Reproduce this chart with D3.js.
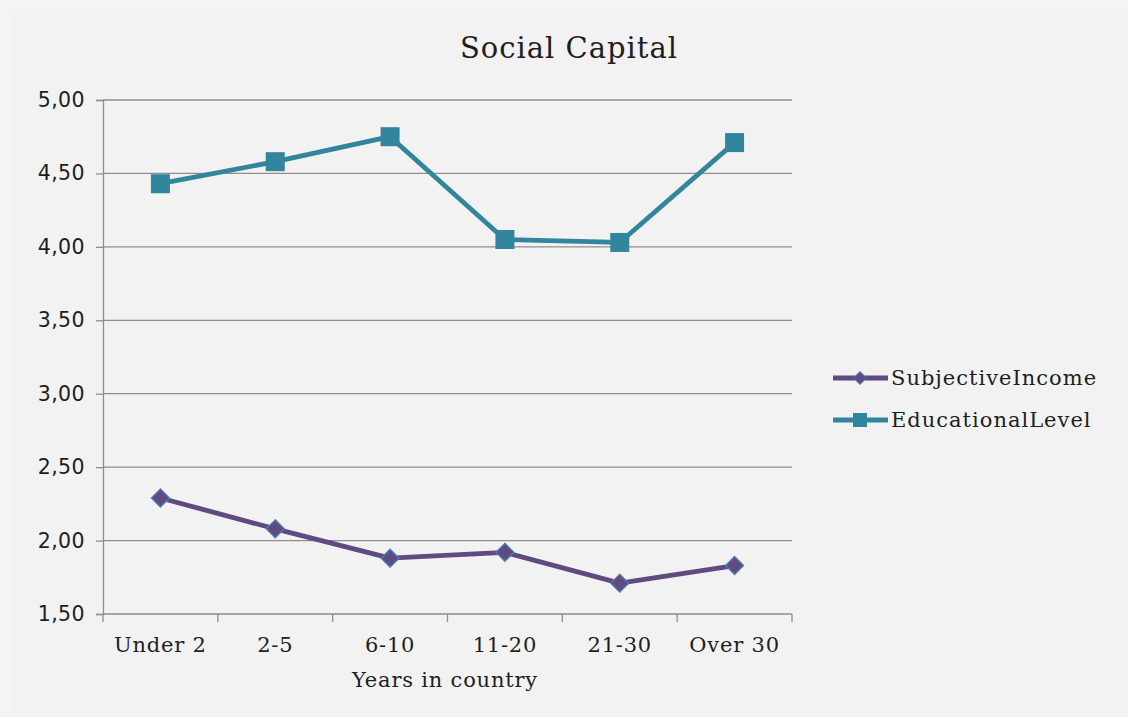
<!DOCTYPE html>
<html>
<head>
<meta charset="utf-8">
<script src="https://cdn.jsdelivr.net/npm/d3@7"></script>
<style>
  html, body { margin: 0; padding: 0; background: #f3f4f6; }
  svg { display: block; }
</style>
</head>
<body>
<svg id="chart" width="1128" height="717"></svg>
<script>
// Years-in-country groups and the two series
const categories = ["Under 2", "2-5", "6-10", "11-20", "21-30", "Over 30"];
const subjectiveIncome = [2.29, 2.08, 1.88, 1.92, 1.71, 1.83];
const educationalLevel = [4.43, 4.58, 4.75, 4.05, 4.03, 4.71];
const yTicks = [1.5, 2.0, 2.5, 3.0, 3.5, 4.0, 4.5, 5.0];

const series = [
  { name: "SubjectiveIncome", values: subjectiveIncome, color: "#5f4b80", marker: "diamond" },
  { name: "EducationalLevel", values: educationalLevel, color: "#31859c", marker: "square" }
];

const svg = d3.select("#chart");
const W = 1128, H = 717;
const margin = { left: 103, right: 336, top: 100, bottom: 103 };

// Chart panel
svg.append("rect").attr("x", 12).attr("y", 9).attr("width", 1110).attr("height", 704)
  .attr("fill", "#f2f2f2");

const x = d3.scaleBand().domain(categories).range([margin.left, W - margin.right]);
const y = d3.scaleLinear().domain([1.5, 5.0]).range([H - margin.bottom, margin.top]);

const serif = "'DejaVu Serif', 'Liberation Serif', serif";
const sans = "'DejaVu Sans', Verdana, sans-serif";
const gridColor = "#8e8e8e";
const textColor = "#1e1e1e";

// Equal-sided diamond (a square turned 45 degrees)
const diamondPath = r => `M0,${-r}L${r},0L0,${r}L${-r},0Z`;
const squarePath = h => `M${-h},${-h}H${h}V${h}H${-h}Z`;

// Horizontal gridlines
svg.append("g").selectAll("line").data(yTicks.slice(1)).join("line")
  .attr("x1", margin.left).attr("x2", W - margin.right)
  .attr("y1", d => y(d)).attr("y2", d => y(d))
  .attr("stroke", gridColor).attr("stroke-width", 1.3);

// Y axis
const fmt = d => d3.format(".2f")(d).replace(".", ",");
const yAxis = svg.append("g").attr("transform", `translate(${margin.left},0)`)
  .call(d3.axisLeft(y).tickValues(yTicks).tickFormat(fmt).tickSize(7).tickPadding(11));
yAxis.select(".domain").attr("stroke", gridColor).attr("stroke-width", 1.3);
yAxis.selectAll(".tick line").attr("stroke", gridColor).attr("stroke-width", 1.3);
yAxis.selectAll(".tick text").attr("font-family", sans).attr("font-size", 20.5)
  .attr("letter-spacing", 0.4).attr("fill", textColor);

// X axis with tick marks at category boundaries
const xAxisG = svg.append("g").attr("transform", `translate(0,${y(1.5)})`);
xAxisG.append("line").attr("x1", margin.left).attr("x2", W - margin.right)
  .attr("y1", 0).attr("y2", 0).attr("stroke", gridColor).attr("stroke-width", 1.3);
const bounds = categories.map(c => x(c)).concat([x(categories[categories.length - 1]) + x.bandwidth()]);
xAxisG.selectAll("line.tk").data(bounds).join("line").attr("class", "tk")
  .attr("x1", d => d).attr("x2", d => d).attr("y1", 0).attr("y2", 8)
  .attr("stroke", gridColor).attr("stroke-width", 1.3);
xAxisG.selectAll("text").data(categories).join("text")
  .attr("x", d => x(d) + x.bandwidth() / 2).attr("y", 38)
  .attr("text-anchor", "middle").attr("font-family", serif).attr("font-size", 21)
  .attr("letter-spacing", 0.8).attr("fill", textColor).text(d => d);

// Axis title and chart title
svg.append("text").attr("x", 445).attr("y", 687).attr("text-anchor", "middle")
  .attr("font-family", serif).attr("font-size", 21).attr("letter-spacing", 0.8)
  .attr("fill", textColor).text("Years in country");
svg.append("text").attr("x", 569).attr("y", 58).attr("text-anchor", "middle")
  .attr("font-family", serif).attr("font-size", 29).attr("letter-spacing", 1)
  .attr("fill", textColor).text("Social Capital");

// Lines and markers
const line = d3.line().x((d, i) => x(categories[i]) + x.bandwidth() / 2).y(d => y(d));

series.forEach(s => {
  svg.append("path").datum(s.values).attr("d", line).attr("fill", "none")
    .attr("stroke", s.color).attr("stroke-width", 4.8).attr("stroke-linejoin", "round");
  svg.append("g").selectAll("path").data(s.values).join("path")
    .attr("transform", (d, i) => `translate(${x(categories[i]) + x.bandwidth() / 2},${y(d)})`)
    .attr("d", s.marker === "diamond" ? diamondPath(9) : squarePath(9.5))
    .attr("fill", s.color)
    .attr("stroke", s.marker === "diamond" ? "#4a7ebb" : "none")
    .attr("stroke-width", 1.3);
});

// Legend
const legend = svg.append("g");
series.forEach((s, i) => {
  const ly = 378 + i * 42;
  legend.append("line").attr("x1", 833).attr("x2", 888).attr("y1", ly).attr("y2", ly)
    .attr("stroke", s.color).attr("stroke-width", 4.8);
  legend.append("path").attr("transform", `translate(860,${ly})`)
    .attr("d", s.marker === "diamond" ? diamondPath(6.5) : squarePath(7))
    .attr("fill", s.color)
    .attr("stroke", s.marker === "diamond" ? "#4a7ebb" : "none").attr("stroke-width", 1);
  legend.append("text").attr("x", 891).attr("y", ly + 7).attr("font-family", serif)
    .attr("font-size", 21).attr("letter-spacing", 1).attr("fill", textColor).text(s.name);
});
</script>
</body>
</html>
